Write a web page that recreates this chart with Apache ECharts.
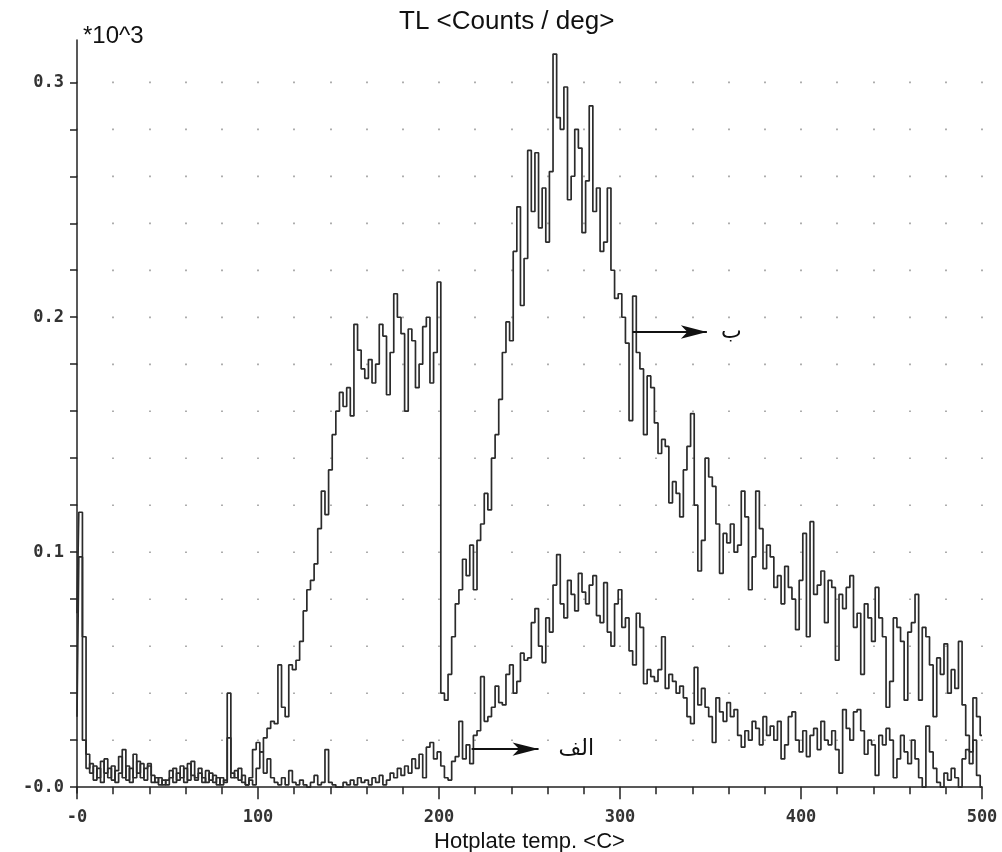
<!DOCTYPE html>
<html><head><meta charset="utf-8">
<script src="https://cdn.jsdelivr.net/npm/echarts@6/dist/echarts.min.js"></script>
<style>html,body{margin:0;padding:0;background:#fff}#c{width:1002px;height:852px}</style>
</head><body><div id="c"></div>
<script>
// channel width of the recorded glow curve (deg C)
const tempStep = 2;

// curve "ب" (upper), counts/deg *10^3, channels 0,2,...,500
const curveB = [
0.074,0.117,0.064,0.014,0.006,0.009,0.004,0.011,0.006,0.008,
0.003,0.007,0.013,0.004,0.009,0.002,0.014,0.006,0.010,0.003,
0.009,0.005,0.002,0.004,0.001,0.003,0.007,0.002,0.006,0.004,
0.008,0.003,0.011,0.004,0.006,0.002,0.007,0.003,0.005,0.001,
0.004,0.002,0.040,0.006,0.004,0.008,0.002,0.001,0.004,0.016,
0.019,0.015,0.021,0.025,0.028,0.027,0.052,0.034,0.030,0.052,
0.050,0.054,0.062,0.075,0.084,0.088,0.095,0.110,0.126,0.116,
0.135,0.150,0.160,0.168,0.162,0.170,0.158,0.197,0.186,0.178,
0.174,0.182,0.172,0.180,0.197,0.192,0.167,0.185,0.210,0.200,
0.193,0.160,0.195,0.190,0.170,0.180,0.196,0.200,0.172,0.185,
0.215,0.040,0.037,0.048,0.064,0.078,0.084,0.097,0.090,0.103,
0.084,0.105,0.112,0.125,0.118,0.140,0.150,0.165,0.185,0.198,
0.190,0.228,0.247,0.205,0.225,0.271,0.245,0.270,0.238,0.255,
0.232,0.262,0.312,0.285,0.280,0.298,0.250,0.260,0.280,0.272,
0.236,0.258,0.290,0.245,0.255,0.228,0.232,0.255,0.220,0.208,
0.210,0.200,0.189,0.156,0.209,0.185,0.178,0.150,0.175,0.170,
0.155,0.142,0.148,0.145,0.121,0.130,0.125,0.115,0.135,0.145,
0.159,0.120,0.092,0.105,0.140,0.132,0.128,0.112,0.091,0.108,
0.104,0.112,0.100,0.103,0.126,0.115,0.084,0.098,0.126,0.110,
0.093,0.103,0.098,0.085,0.090,0.078,0.094,0.085,0.080,0.067,
0.088,0.108,0.064,0.113,0.082,0.086,0.092,0.070,0.088,0.085,
0.054,0.082,0.076,0.085,0.090,0.068,0.074,0.048,0.078,0.072,
0.062,0.085,0.072,0.064,0.034,0.045,0.072,0.068,0.062,0.037,
0.066,0.070,0.082,0.037,0.068,0.064,0.052,0.030,0.055,0.048,
0.061,0.040,0.050,0.042,0.062,0.035,0.022,0.015,0.038,0.030,
0.022
];

// curve "الف" (lower)
const curveA = [
0.030,0.098,0.020,0.008,0.010,0.003,0.008,0.002,0.012,0.004,
0.009,0.002,0.006,0.016,0.003,0.008,0.004,0.011,0.004,0.008,
0.010,0.002,0.004,0.001,0.003,0.001,0.004,0.008,0.003,0.009,
0.002,0.010,0.005,0.003,0.008,0.004,0.002,0.006,0.002,0.004,
0.001,0.003,0.021,0.004,0.007,0.003,0.005,0.001,0.003,0.001,
0.008,0.015,0.006,0.012,0.004,0.002,0.001,0.004,0.001,0.007,
0.002,0.001,0.003,0.001,0.000,0.002,0.005,0.001,0.002,0.016,
0.002,0.001,0.000,0.000,0.002,0.001,0.003,0.001,0.004,0.002,
0.003,0.001,0.004,0.002,0.005,0.001,0.003,0.006,0.004,0.008,
0.005,0.009,0.006,0.012,0.008,0.014,0.004,0.017,0.019,0.012,
0.015,0.009,0.004,0.003,0.011,0.013,0.028,0.012,0.018,0.010,
0.022,0.024,0.047,0.028,0.030,0.034,0.043,0.036,0.035,0.048,
0.052,0.040,0.045,0.057,0.054,0.055,0.070,0.076,0.060,0.053,
0.072,0.066,0.086,0.099,0.078,0.072,0.088,0.082,0.075,0.091,
0.083,0.078,0.086,0.090,0.073,0.070,0.087,0.066,0.060,0.078,
0.084,0.068,0.072,0.058,0.052,0.074,0.068,0.044,0.050,0.047,
0.045,0.050,0.064,0.042,0.048,0.045,0.040,0.043,0.038,0.030,
0.027,0.051,0.035,0.042,0.034,0.030,0.019,0.038,0.032,0.028,
0.036,0.030,0.033,0.022,0.017,0.024,0.020,0.028,0.025,0.018,
0.030,0.022,0.026,0.020,0.028,0.012,0.018,0.030,0.032,0.020,
0.015,0.024,0.013,0.022,0.025,0.016,0.028,0.020,0.018,0.024,
0.016,0.006,0.033,0.025,0.020,0.032,0.033,0.024,0.014,0.020,
0.018,0.005,0.022,0.018,0.025,0.020,0.004,0.012,0.022,0.015,
0.010,0.020,0.012,0.004,0.000,0.026,0.015,0.008,0.002,0.000,
0.006,0.003,0.008,0.004,0.000,0.012,0.016,0.010,0.020,0.005,
0.000
];

const yTickValues = [0,0.02,0.04,0.06,0.08,0.1,0.12,0.14,0.16,0.18,0.2,0.22,0.24,0.26,0.28,0.3];
const yLabelValues = [0,0.1,0.2,0.3];

// annotation arrows: [startTemp, endTemp, level]
const arrowB = [307, 348, 0.1937];
const arrowA = [218, 255, 0.0162];

const toPairs = arr => arr.map((v, i) => [i * tempStep, v]);

const axisColor = '#222';
const dotStyle = {color: '#9a9a9a', width: 1.6, type: [1.6, 45.39], dashOffset: 5.4};

const chart = echarts.init(document.getElementById('c'), null, {renderer: 'canvas'});

function arrowMark(a, text, dist) {
  return {
    silent: true,
    animation: false,
    symbol: ['none', 'arrow'],
    symbolSize: [10, 26],
    lineStyle: {color: '#111', width: 1.8, type: 'solid'},
    label: {show: true, position: 'end', formatter: text, distance: dist,
      fontFamily: 'DejaVu Sans', fontSize: 22, color: '#111'},
    emphasis: {disabled: true},
    data: [[{coord: [a[0], a[2]]}, {coord: [a[1], a[2]]}]]
  };
}

chart.setOption({
  animation: false,
  backgroundColor: '#fff',
  title: {
    text: 'TL <Counts / deg>', left: 399, top: 9, padding: 0,
    textStyle: {fontFamily: 'Liberation Sans', fontSize: 26, fontWeight: 'normal', color: '#111'}
  },
  graphic: [{
    type: 'text', left: 83, top: 24,
    style: {text: '*10^3', font: '24px "Liberation Sans"', fill: '#111'}
  }],
  grid: {left: 77, right: 20, top: 40, bottom: 59, outerBoundsMode: 'none', containLabel: false},
  xAxis: {
    type: 'value', min: 0, max: 500, interval: 100, position: 'bottom',
    axisLine: {lineStyle: {color: axisColor, width: 1.5}},
    axisTick: {length: 12, lineStyle: {color: axisColor, width: 1.5}},
    minorTick: {show: true, splitNumber: 5, length: 7, lineStyle: {color: axisColor, width: 1.5}},
    axisLabel: {margin: 16, fontFamily: 'DejaVu Sans Mono', fontWeight: 'bold', fontSize: 17, color: '#333',
      formatter: v => v === 0 ? '-0' : String(v)},
    splitLine: {show: true, lineStyle: dotStyle},
    minorSplitLine: {show: true, lineStyle: dotStyle},
    name: 'Hotplate temp. <C>', nameLocation: 'middle', nameGap: 35,
    nameTextStyle: {fontFamily: 'Liberation Sans', fontSize: 22, color: '#111'}
  },
  yAxis: {
    type: 'value', min: -0.0025, max: 0.318,
    axisLine: {show: true, lineStyle: {color: axisColor, width: 1.5}},
    axisTick: {show: true, length: 7, customValues: yTickValues, lineStyle: {color: axisColor, width: 1.5}},
    axisLabel: {customValues: yLabelValues, margin: 13, fontFamily: 'DejaVu Sans Mono', fontWeight: 'bold',
      fontSize: 17, color: '#333', formatter: v => v === 0 ? '-0.0' : v.toFixed(1)},
    splitLine: {show: false}
  },
  series: [
    {
      name: 'ب', type: 'line', step: 'middle', data: toPairs(curveB),
      showSymbol: false, symbol: 'none', silent: true, z: 3,
      lineStyle: {color: '#2b2b2b', width: 1.7},
      markLine: arrowMark(arrowB, 'ب', 14)
    },
    {
      name: 'الف', type: 'line', step: 'middle', data: toPairs(curveA),
      showSymbol: false, symbol: 'none', silent: true, z: 3,
      lineStyle: {color: '#2b2b2b', width: 1.7},
      markLine: arrowMark(arrowA, 'الف', 20)
    }
  ]
});
</script>
</body></html>
